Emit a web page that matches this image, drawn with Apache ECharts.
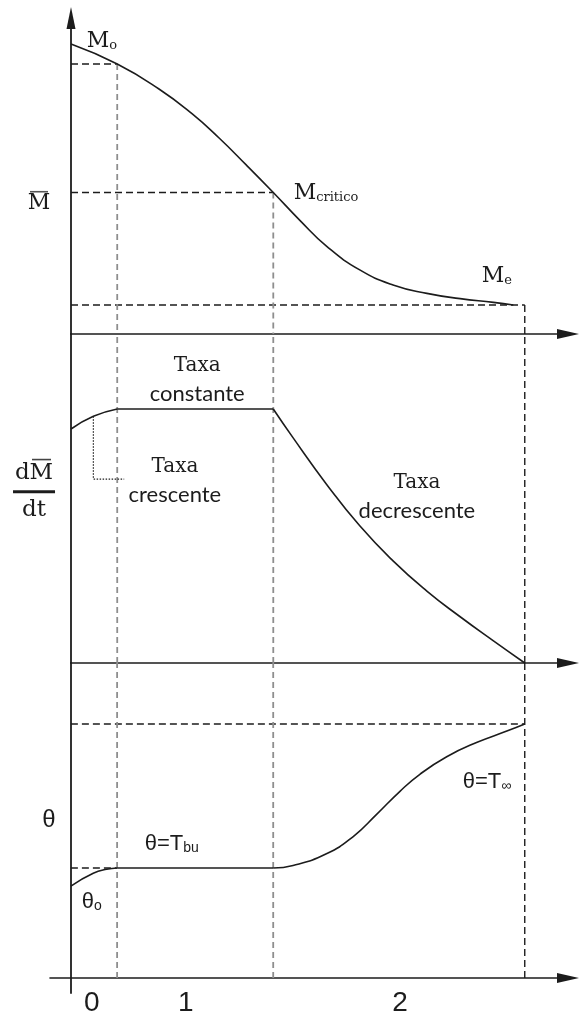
<!DOCTYPE html>
<html>
<head>
<meta charset="utf-8">
<script src="https://cdn.jsdelivr.net/npm/echarts@6/dist/echarts.min.js"></script>
<style>
  html, body { margin: 0; padding: 0; background: #ffffff; }
  #chart { width: 580px; height: 1019px; }
</style>
</head>
<body>
<div id="chart"></div>
<script>
// Time axis: ends of the heating-up (0), constant-rate (1) and falling-rate (2) periods
const periodEnds = [0.93, 4.07, 9.13];
const periodLabels = ['0', '1', '2'];
const periodLabelT = [0.42, 2.31, 6.62];

// Mean moisture content M̄(t), from M0 down to the equilibrium value Me
const moistureT   = [0, 0.93, 1.77, 2.44, 2.98, 3.52, 4.07, 4.61, 5.14, 5.81, 6.48, 7.16, 7.83, 8.50, 8.90];
const moistureVal = [1.0, 0.931, 0.845, 0.759, 0.676, 0.584, 0.488, 0.391, 0.303, 0.221, 0.169, 0.140, 0.122, 0.109, 0.100];

// Drying rate dM̄/dt: rising, constant, then falling to zero
const rateRiseT   = [0, 0.45, 0.93];
const rateRiseVal = [0.921, 0.971, 1.0];
const rateFallT   = [4.07, 4.47, 5.14, 5.81, 6.48, 7.16, 7.83, 8.50, 9.13];
const rateFallVal = [1.0, 0.886, 0.704, 0.540, 0.402, 0.283, 0.182, 0.087, 0];

// Product temperature θ: θ0 -> wet-bulb T_bu -> T∞
const tempRiseT   = [0, 0.45, 0.72, 0.93];
const tempRiseVal = [0.362, 0.412, 0.428, 0.433];
const tempFinalT   = [4.07, 4.47, 5.14, 5.68, 6.15, 6.62, 7.02, 7.56, 8.16, 8.77, 9.13];
const tempFinalVal = [0.433, 0.443, 0.489, 0.557, 0.644, 0.735, 0.802, 0.871, 0.927, 0.972, 1.0];

const zip = (xs, ys) => xs.map((x, i) => [x, ys[i]]);
const INK = '#1c1c1c';
const GREY = '#8e8e8e';
const DASH = [7, 4];
const SERIF = '"DejaVu Serif"';

const [t1, tc, tf] = periodEnds;
const mAtT1 = moistureVal[moistureT.indexOf(t1)];
const mCrit = moistureVal[moistureT.indexOf(tc)];
const mEq = moistureVal[moistureVal.length - 1];
const rConst = rateRiseVal[rateRiseVal.length - 1];
const tBu = tempRiseVal[tempRiseVal.length - 1];
const tInf = tempFinalVal[tempFinalVal.length - 1];

// axis ranges per panel
const Y_RANGES = [[0, 1.0897], [0, 1.295], [-0.059, 1.240]];

function curve(grid, data, smooth) {
  return { type: 'line', xAxisIndex: grid, yAxisIndex: grid, data, smooth,
    symbol: 'none', silent: true, z: 6, lineStyle: { color: INK, width: 1.6 } };
}
function guide(grid, data, color, dash, width) {
  return { type: 'line', xAxisIndex: grid, yAxisIndex: grid, data, symbol: 'none',
    silent: true, z: 3, lineStyle: { color, width: width || 1.4, type: dash } };
}

const RICH = {
  M:   { fontFamily: SERIF, fontSize: 22, color: INK, lineHeight: 28, verticalAlign: 'bottom' },
  ms:  { fontFamily: SERIF, fontSize: 13, color: INK, lineHeight: 12, verticalAlign: 'bottom' },
  tx:  { fontFamily: SERIF, fontSize: 20, color: INK, lineHeight: 28, align: 'center' },
  wd:  { fontFamily: 'Lato', fontSize: 22, color: INK, lineHeight: 28, align: 'center' },
  th:  { fontFamily: 'Liberation Sans', fontSize: 22, color: INK, lineHeight: 26, verticalAlign: 'bottom' },
  ts:  { fontFamily: 'Liberation Sans', fontSize: 14, color: INK, lineHeight: 12, verticalAlign: 'bottom' }
};

function notes(grid, items) {
  return {
    type: 'scatter', xAxisIndex: grid, yAxisIndex: grid, symbolSize: 0, silent: true, z: 10,
    itemStyle: { opacity: 1 },
    data: items.map(it => ({ value: [it[0], it[1]], label: { formatter: it[2] } })),
    label: { show: true, position: 'inside', color: INK, opacity: 1, rich: RICH }
  };
}

const grids = [
  { left: 71, right: 12, top: 18, height: 316 },
  { left: 71, right: 12, top: 334, height: 329 },
  { left: 50, right: 12, top: 663, height: 330 }
];

const xAxes = grids.map((g, i) => ({
  type: 'value', gridIndex: i, min: i === 2 ? -0.42 : 0, max: 10,
  axisLine: { show: true, onZero: true, symbol: ['none', 'triangle'], symbolSize: [10, 22],
    lineStyle: { color: INK, width: 1.6 } },
  axisTick: { show: false }, axisLabel: { show: false }, splitLine: { show: false }
}));

const yAxes = Y_RANGES.map((r, i) => ({
  type: 'value', gridIndex: i, min: r[0], max: r[1],
  axisLine: { show: true, onZero: true, symbol: i === 0 ? ['none', 'triangle'] : 'none',
    symbolSize: [9, 22], lineStyle: { color: INK, width: 1.8 } },
  axisTick: { show: false }, axisLabel: { show: false }, splitLine: { show: false }
}));

const series = [
  // Panel 1: moisture content
  guide(0, [[0, mAtT1], [t1, mAtT1]], INK, DASH),
  guide(0, [[0, mCrit], [tc, mCrit]], INK, DASH),
  guide(0, [[0, mEq], [tf, mEq]], INK, DASH),
  guide(0, [[t1, mAtT1], [t1, 0]], GREY, [6, 4], 1.8),
  guide(0, [[tc, mCrit], [tc, 0]], GREY, [6, 4], 1.8),
  guide(0, [[tf, mEq], [tf, 0]], INK, DASH),
  curve(0, zip(moistureT, moistureVal), 0.5),
  notes(0, [
    [0.62, 1.02, '{M|M}{ms|o}'],
    [5.13, 0.497, '{M|M}{ms|critico}'],
    [8.57, 0.21, '{M|M}{ms|e}']
  ]),

  // Panel 2: drying rate
  guide(1, [[t1, 0], [t1, Y_RANGES[1][1]]], GREY, [6, 4], 1.8),
  guide(1, [[tc, 0], [tc, Y_RANGES[1][1]]], GREY, [6, 4], 1.8),
  guide(1, [[tf, 0], [tf, Y_RANGES[1][1]]], INK, DASH),
  guide(1, [[rateRiseT[1], rateRiseVal[1]], [rateRiseT[1], 0.724], [1.07, 0.724]], INK, [1.5, 1.5], 1.2),
  curve(1, zip(rateRiseT, rateRiseVal), 0.5),
  curve(1, [[t1, rConst], [tc, rConst]], false),
  curve(1, zip(rateFallT, rateFallVal), 0.5),
  notes(1, [
    [2.54, 1.115, '{tx|Taxa}\n{wd|constante}'],
    [2.09, 0.718, '{tx|Taxa}\n{wd|crescente}'],
    [6.96, 0.655, '{tx|Taxa}\n{wd|decrescente}']
  ]),

  // Panel 3: product temperature
  guide(2, [[0, tBu], [t1, tBu]], INK, DASH),
  guide(2, [[0, tInf], [tf, tInf]], INK, DASH),
  guide(2, [[t1, 0], [t1, Y_RANGES[2][1]]], GREY, [6, 4], 1.8),
  guide(2, [[tc, 0], [tc, Y_RANGES[2][1]]], GREY, [6, 4], 1.8),
  guide(2, [[tf, 0], [tf, Y_RANGES[2][1]]], INK, DASH),
  curve(2, zip(tempRiseT, tempRiseVal), 0.5),
  curve(2, [[t1, tBu], [tc, tBu]], false),
  curve(2, zip(tempFinalT, tempFinalVal), 0.5),
  notes(2, [
    [2.03, 0.535, '{th|θ=T}{ts|bu}'],
    [0.42, 0.307, '{th|θ}{ts|o}'],
    [8.37, 0.78, '{th|θ=T}{ts|∞}']
  ])
];

const chart = echarts.init(document.getElementById('chart'), null, { renderer: 'canvas' });
chart.setOption({
  animation: false,
  backgroundColor: '#ffffff',
  grid: grids,
  xAxis: xAxes,
  yAxis: yAxes,
  series
});

// Axis titles and period numbers, anchored in each panel's data space
const P = (grid, pt) => chart.convertToPixel({ gridIndex: grid }, pt);
const graphic = [];
const mBar = P(0, [-0.644, 0.452]);
graphic.push({ type: 'group', x: mBar[0], y: mBar[1], children: [
  { type: 'text', x: 0, y: 0, style: { text: 'M', font: '22px ' + SERIF, fill: INK, align: 'center', verticalAlign: 'middle' } },
  { type: 'rect', shape: { x: -9, y: -12, width: 18, height: 1.6 }, style: { fill: '#555' } }
] });

const frac = P(1, [-0.744, 0.674]);
graphic.push({ type: 'group', x: frac[0], y: frac[1], children: [
  { type: 'text', x: 0, y: -19, style: { text: 'dM', font: '23px ' + SERIF, fill: INK, align: 'center', verticalAlign: 'middle' } },
  { type: 'rect', shape: { x: -2, y: -33, width: 19, height: 1.6 }, style: { fill: '#444' } },
  { type: 'rect', shape: { x: -21, y: -1.5, width: 42, height: 3 }, style: { fill: INK } },
  { type: 'text', x: 0, y: 18, style: { text: 'dt', font: '23px ' + SERIF, fill: INK, align: 'center', verticalAlign: 'middle' } }
] });

const thLab = P(2, [-0.443, 0.622]);
graphic.push({ type: 'text', x: thLab[0], y: thLab[1], style: {
  text: 'θ', font: '24px "Liberation Sans"', fill: INK, align: 'center', verticalAlign: 'middle' } });

periodLabels.forEach((lab, i) => {
  const p = P(2, [periodLabelT[i], -0.098]);
  graphic.push({ type: 'text', x: p[0], y: p[1], style: {
    text: lab, font: '28px "Liberation Sans"', fill: INK, align: 'center', verticalAlign: 'middle' } });
});

chart.setOption({ graphic });
</script>
</body>
</html>
